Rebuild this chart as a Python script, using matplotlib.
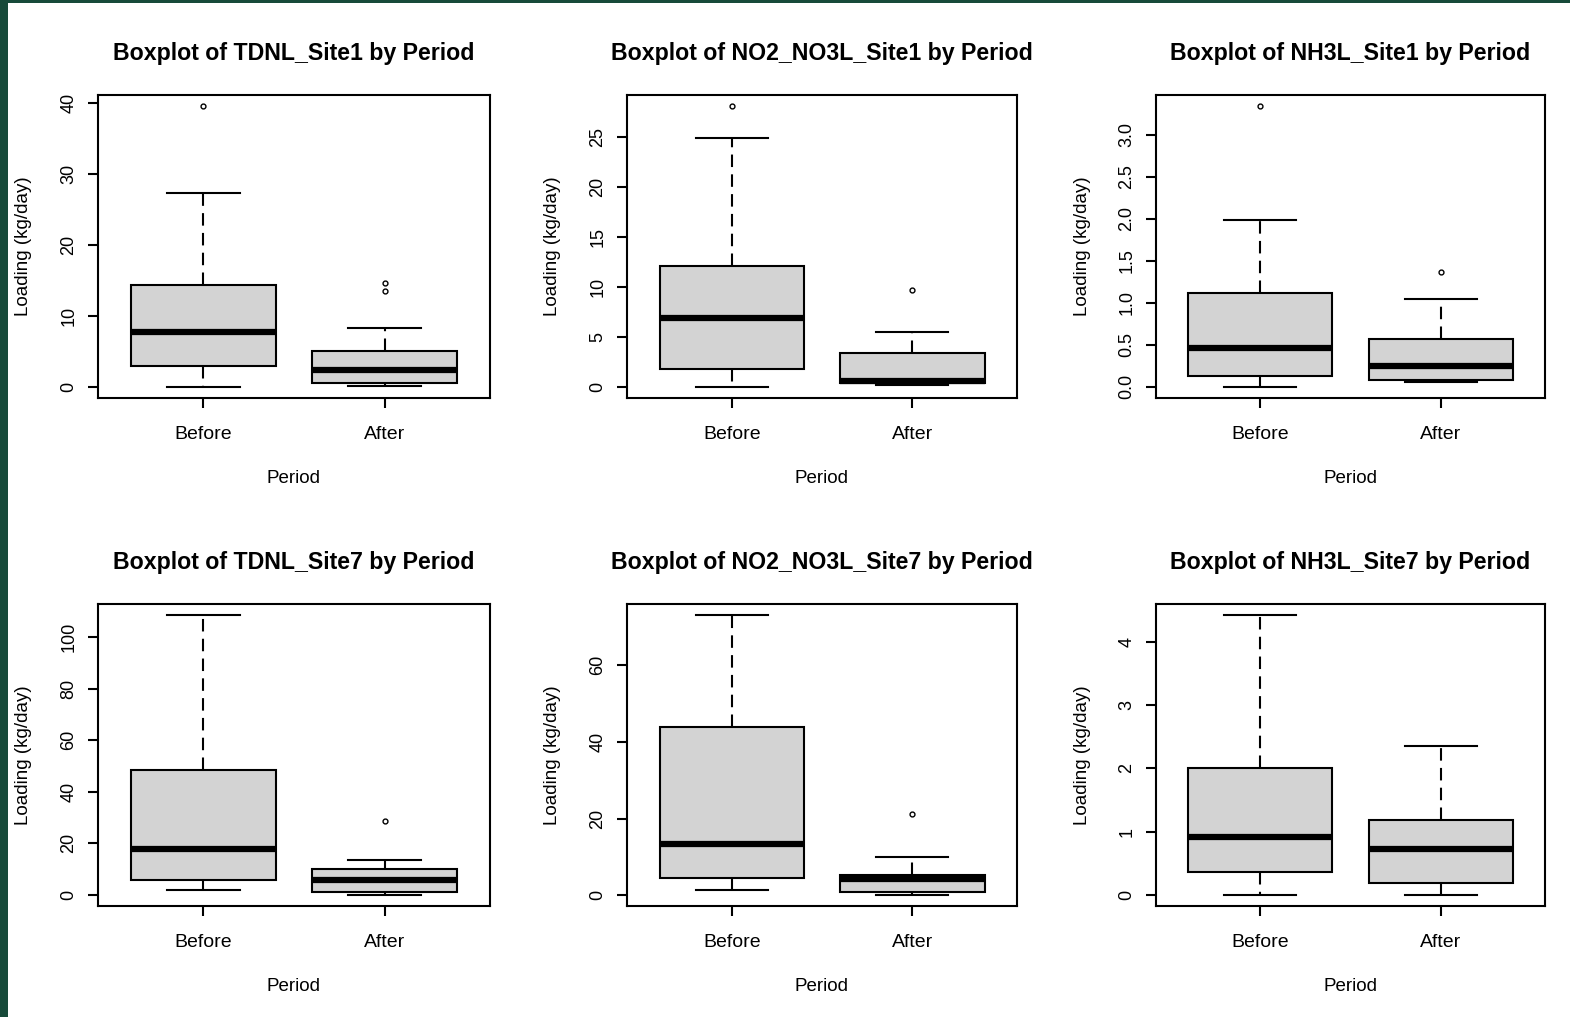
import matplotlib
matplotlib.use("Agg")
import matplotlib.pyplot as plt
from matplotlib.patches import Rectangle

plt.rcParams['font.family'] = ['Liberation Sans', 'DejaVu Sans']

titles = ["Boxplot of TDNL_Site1 by Period", "Boxplot of NO2_NO3L_Site1 by Period",
          "Boxplot of NH3L_Site1 by Period", "Boxplot of TDNL_Site7 by Period",
          "Boxplot of NO2_NO3L_Site7 by Period", "Boxplot of NH3L_Site7 by Period"]
periods = ["Before", "After"]

# box statistics per panel: [Before, After]
whislo = [[0.0, 0.05], [0.0, 0.15], [0.0, 0.06], [1.8, 0.1], [1.3, 0.1], [0.0, 0.0]]
q1 = [[3.0, 0.5], [1.8, 0.33], [0.127, 0.075], [5.9, 1.2], [4.6, 0.8], [0.357, 0.19]]
med = [[7.8, 2.3], [6.9, 0.6], [0.46, 0.25], [17.8, 6.0], [13.3, 4.1], [0.917, 0.727]]
q3 = [[14.3, 5.0], [12.05, 3.34], [1.12, 0.57], [48.4, 10.1], [44.0, 5.4], [2.008, 1.175]]
whishi = [[27.4, 8.3], [24.85, 5.5], [1.99, 1.05], [108.4, 13.6], [73.1, 10.1], [4.42, 2.345]]
fliers = [[[39.6], [14.6, 13.5]], [[28.05], [9.72]], [[3.34], [1.37]],
          [[], [28.7]], [[], [21.2]], [[], []]]

yticks = [[0, 10, 20, 30, 40], [0, 5, 10, 15, 20, 25], [0.0, 0.5, 1.0, 1.5, 2.0, 2.5, 3.0],
          [0, 20, 40, 60, 80, 100], [0, 20, 40, 60], [0, 1, 2, 3, 4]]
yticklabels = [["0", "10", "20", "30", "40"], ["0", "5", "10", "15", "20", "25"],
               ["0.0", "0.5", "1.0", "1.5", "2.0", "2.5", "3.0"],
               ["0", "20", "40", "60", "80", "100"], ["0", "20", "40", "60"],
               ["0", "1", "2", "3", "4"]]

W, H = 1570, 1017
fig = plt.figure(figsize=(W / 100, H / 100), dpi=100, facecolor='white')

# green frame of the screenshot
fig.patches.append(Rectangle((0, 0), 8 / W, 1, transform=fig.transFigure,
                             facecolor='#174a3a', edgecolor='none', zorder=0))
fig.patches.append(Rectangle((0, 1 - 3 / H), 1, 3 / H, transform=fig.transFigure,
                             facecolor='#174a3a', edgecolor='none', zorder=0))

lefts = [98, 627, 1156]
widths = [392, 390, 389]
tops = [95, 604]
heights = [303, 302]

for i in range(6):
    r, c = divmod(i, 3)
    ax = fig.add_axes([lefts[c] / W, 1 - (tops[r] + heights[r]) / H,
                       widths[c] / W, heights[r] / H])
    stats = []
    for j in range(2):
        stats.append(dict(whislo=whislo[i][j], q1=q1[i][j], med=med[i][j],
                          q3=q3[i][j], whishi=whishi[i][j], fliers=fliers[i][j]))
    ax.bxp(stats, positions=[1, 2], widths=0.8, capwidths=0.4, patch_artist=True,
           boxprops=dict(facecolor='#d3d3d3', edgecolor='black', linewidth=1.5),
           medianprops=dict(color='black', linewidth=4.5, solid_capstyle='butt'),
           whiskerprops=dict(color='black', linestyle=(0, (6, 3.5)), linewidth=1.5),
           capprops=dict(color='black', linewidth=1.5),
           flierprops=dict(marker='o', markersize=3.5, markerfacecolor='none',
                           markeredgecolor='black', markeredgewidth=1))

    # R-style axis range: data range padded by 4%
    lo = min([whislo[i][0], whislo[i][1]] + fliers[i][0] + fliers[i][1])
    hi = max([whishi[i][0], whishi[i][1]] + fliers[i][0] + fliers[i][1])
    ax.set_ylim(lo - 0.04 * (hi - lo), hi + 0.04 * (hi - lo))
    ax.set_xlim(0.42, 2.58)

    ax.set_yticks(yticks[i])
    ax.set_yticklabels(yticklabels[i], rotation=90, va='center', fontsize=13)
    ax.set_xticks([1, 2])
    ax.set_xticklabels(periods, fontsize=14)
    ax.tick_params(axis='both', direction='out', length=7, width=1.5, color='black')
    ax.tick_params(axis='y', pad=8)
    ax.tick_params(axis='x', pad=13)
    for s in ax.spines.values():
        s.set_linewidth(1.5)

    ax.set_title(titles[i], fontsize=16.7, fontweight='bold', pad=25.5)
    ax.set_xlabel("Period", fontsize=13.5)
    ax.xaxis.set_label_coords(0.5, -0.238)
    ax.set_ylabel("Loading (kg/day)", fontsize=13.5)
    ax.yaxis.set_label_coords(-0.168, 0.5)

fig.savefig("out.png", dpi=100, facecolor='white')
